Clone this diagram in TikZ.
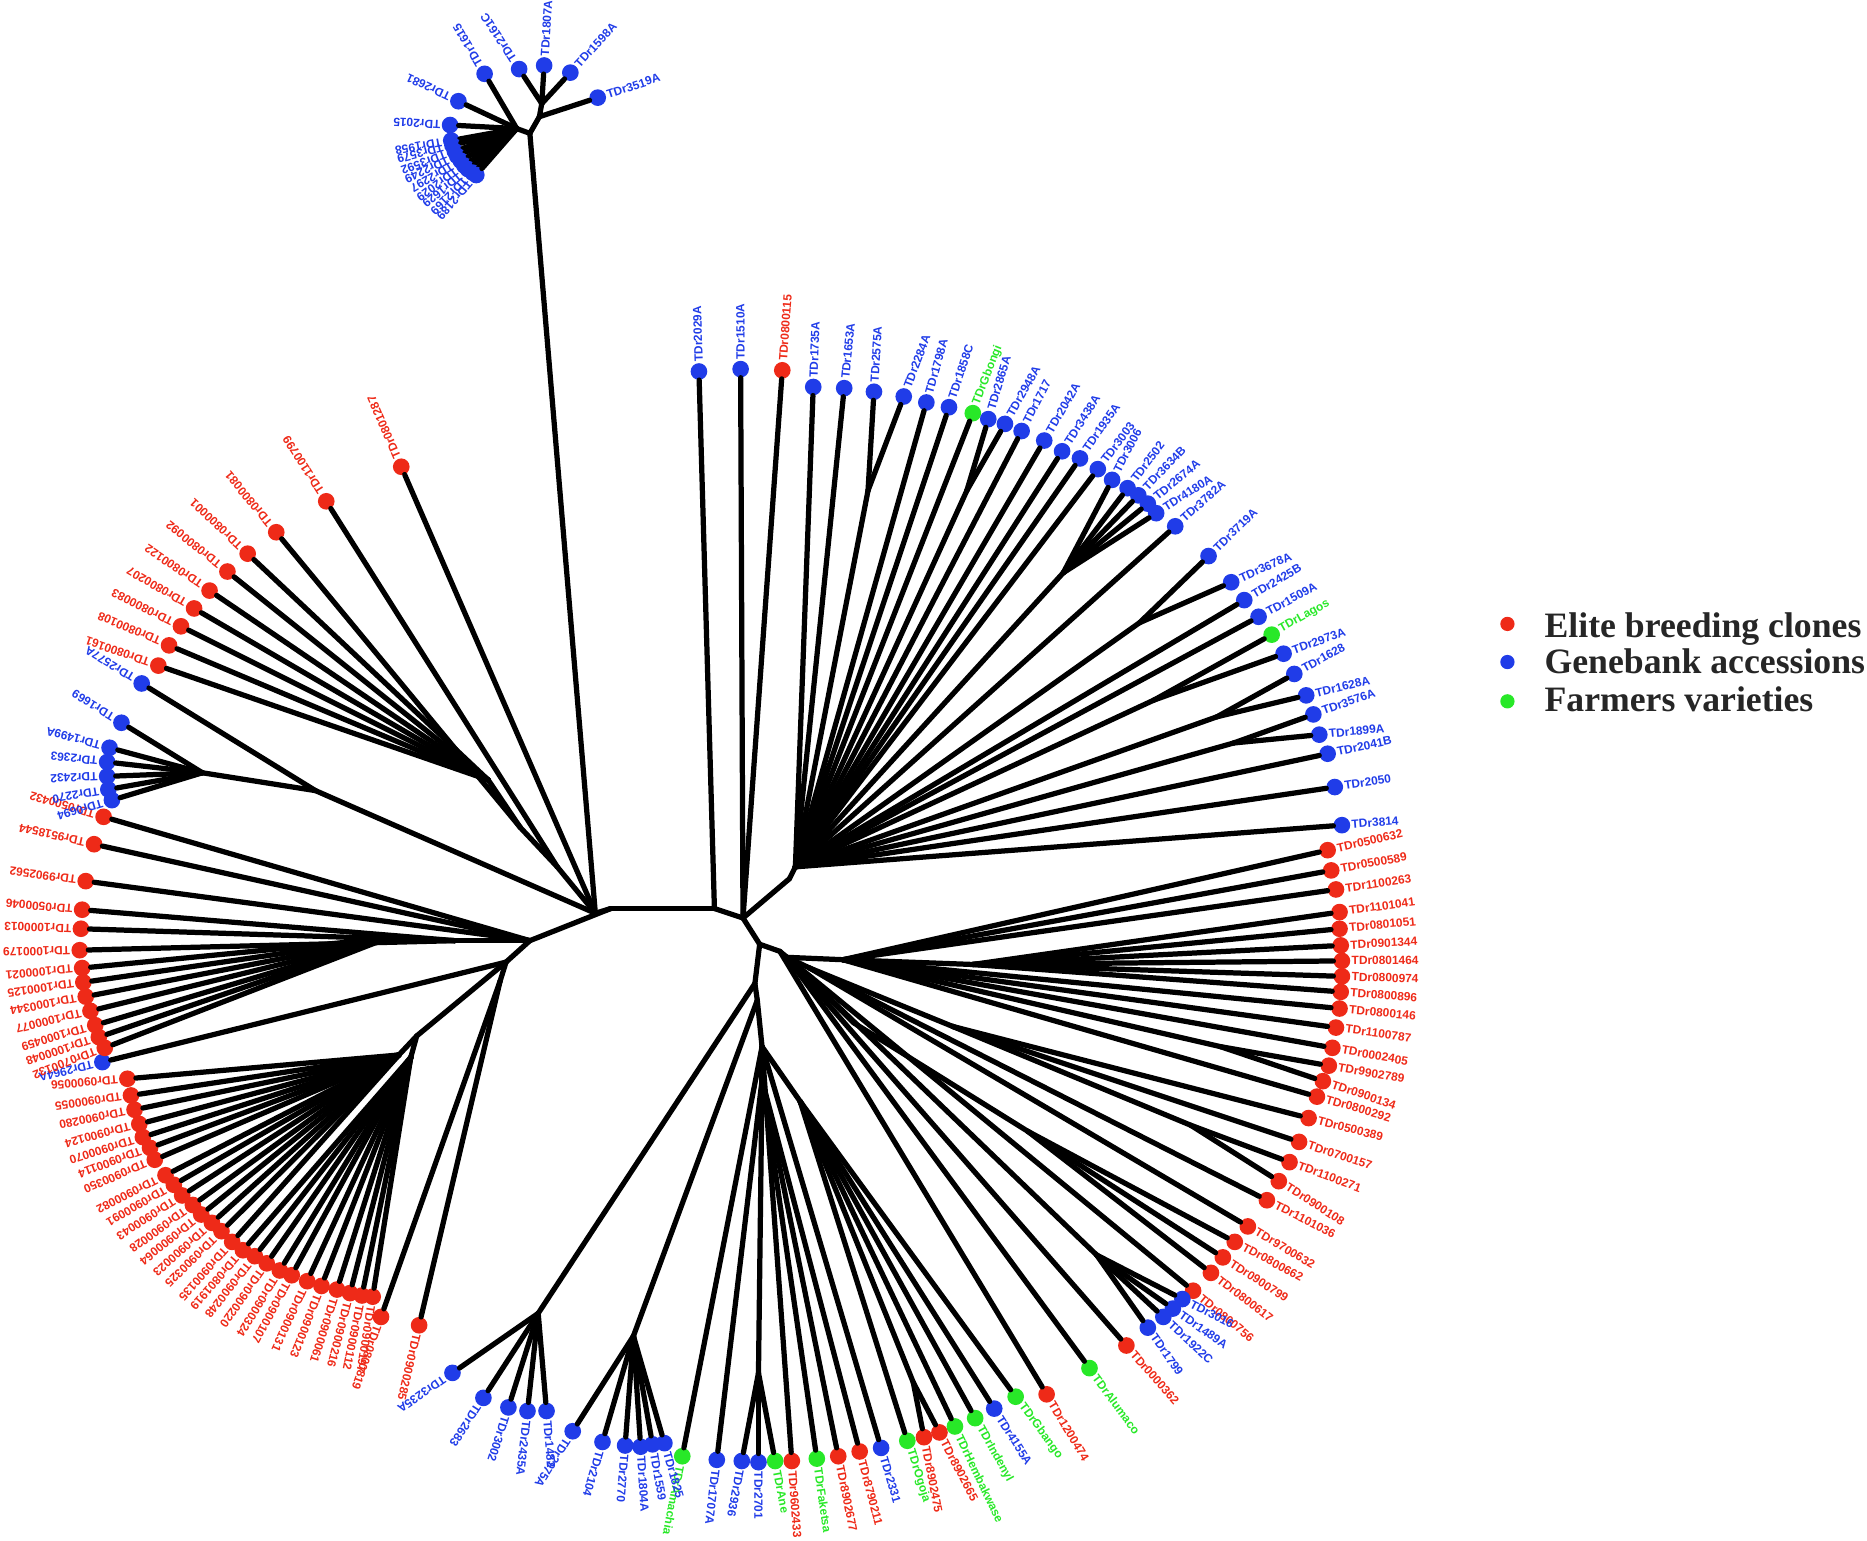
\documentclass[tikz,border=0pt]{standalone}
\usepackage{fontspec}
\usepackage{xcolor}
\setmainfont{Liberation Sans}
\newfontfamily\legendfont{Liberation Serif}
\usetikzlibrary{calc}
\definecolor{elite}{RGB}{238,42,24}
\definecolor{bank}{RGB}{32,60,232}
\definecolor{farm}{RGB}{40,232,40}
\tikzset{
  branch/.style={line width=4.4pt,line cap=round,black},
  leafdot/.style={circle,inner sep=0pt,minimum size=14pt},
  tiplabel/.style={anchor=west,inner xsep=8pt,inner ysep=0pt,font=\fontsize{10}{12}\selectfont\bfseries},
  keydot/.style={circle,inner sep=0pt,minimum size=12pt},
  keytext/.style={anchor=base west,inner sep=0pt,text=black!85,font=\fontsize{30}{36}\selectfont\legendfont\bfseries}
}
\begin{document}
\begin{tikzpicture}[x=1pt,y=-1pt]
  \useasboundingbox (0,0) rectangle (1568,1294);
  % inner forks
  \foreach \name/\px/\py in {midL/513/763,midR/600/763,midB/624/771,midC/638/793,hubLeft/500/767,
    topRoot/445/112,topL/434/108,topR/453/98,topS/455/87,
    hubUL2/468/728,hubUL/437/695,fanUL/410/655,hubMid/265/664,hubSm/170/649,
    hubW/445/790,hubS/425/808,hubF1/382/790,hubF2/325/788,hubSb/420/824,hubArc/350/870,hubU/335/886,hubD/345/888,
    hubTR/663/738,hubTR2/668/728,join2575/729/412,join2865/812/412,hubC/893/481,join3719/957/523,join2973/969/588,join1628/1022/602,join3576/1036/624,
    hubE1/655/799,hubE2/661/804,hubE3/708/806,hubE4/817/810,hubE5/800/862,hubE6/680/813,hubE7/717/859,hubE8/863/950,join2789/1025/879,join0108/1000/945,hubK/921/1054,
    tr1/634/826,tr2/636/840,tr3/640/879,tr4/640/907,hubG/672/925,join2475/767/1161,join2936/637/1153,hubBL/452/1103,hubBM/532/1122}{
    \coordinate (\name) at (\px,\py);
  }
  \foreach \a/\b in {midL/midR,midR/midB,midB/midC,midL/hubLeft,hubLeft/topRoot,topRoot/topL,topRoot/topR,topR/topS,
    hubLeft/hubUL2,hubUL2/hubUL,hubUL/fanUL,hubLeft/hubMid,hubMid/hubSm,midL/hubW,hubW/hubS,hubW/hubF1,hubF1/hubF2,
    hubS/hubSb,hubS/hubArc,hubArc/hubU,hubArc/hubD,midB/hubTR,hubTR/hubTR2,hubTR2/join2575,hubTR2/join2865,hubTR2/hubC,hubTR2/join3719,hubTR2/join2973,hubTR2/join1628,hubTR2/join3576,
    midC/hubE1,hubE1/hubE2,hubE2/hubE3,hubE3/hubE4,hubE2/hubE6,hubE6/hubE5,hubE2/hubE7,hubE7/hubE8,hubE3/join2789,hubE5/join0108,hubE2/hubK,
    midC/tr1,tr1/tr2,tr2/tr3,tr3/tr4,tr3/hubG,hubG/join2475,tr4/join2936,tr1/hubBL,tr2/hubBM}{
    \draw[branch] (\a) -- (\b);
  }
  % tips: name/x/y/fork/group
  \foreach \name/\px/\py/\up/\kind in {
    TDr3519A/502/82/topR/bank,TDr1598A/479/61/topS/bank,TDr1807A/457/55/topS/bank,TDr2161C/436/58/topS/bank,TDr1615/407/62/topL/bank,TDr2681/385/85/topL/bank,TDr2015/378/105/topL/bank,
    TDr1958/379/118/topL/bank,TDr3579/380/122/topL/bank,TDr3592/382/127/topL/bank,TDr2249/384/131/topL/bank,TDr2297/387/135/topL/bank,TDr2029/390/139/topL/bank,TDr1629/393/142/topL/bank,TDr2169/397/145/topL/bank,TDr2189/400/147/topL/bank,
    TDr2029A/587/312/midR/bank,TDr1510A/622/310/midB/bank,TDr0800115/657/311/midB/elite,
    TDr1735A/683/325/hubTR2/bank,TDr1653A/709/326/hubTR2/bank,TDr2575A/734/329/join2575/bank,TDr2284A/759/333/join2575/bank,TDr1798A/778/338/hubTR2/bank,TDr1858C/797/342/hubTR2/bank,TDrGbongi/817/347/hubTR2/farm,TDr2865A/830/352/join2865/bank,TDr2948A/844/356/join2865/bank,TDr1717/858/362/hubTR2/bank,TDr2042A/877/370/hubTR2/bank,TDr3438A/892/379/hubTR2/bank,TDr1935A/907/385/hubTR2/bank,TDr3003/922/394/hubTR2/bank,
    TDr3006/934/403/hubC/bank,TDr2502/947/410/hubC/bank,TDr3634B/956/416/hubC/bank,TDr2674A/964/423/hubC/bank,TDr4180A/971/431/hubC/bank,TDr3782A/987/442/hubTR2/bank,
    TDr3719A/1015/467/join3719/bank,TDr3678A/1034/489/join3719/bank,TDr2425B/1045/504/hubTR2/bank,TDr1509A/1057/518/hubTR2/bank,TDrLagos/1068/533/join2973/farm,TDr2973A/1078/549/join2973/bank,TDr1628/1087/566/join1628/bank,TDr1628A/1097/584/join1628/bank,TDr3576A/1103/600/join3576/bank,TDr1899A/1108/617/join3576/bank,TDr2041B/1115/633/hubTR2/bank,TDr2050/1121/661/hubTR2/bank,TDr3814/1127/693/hubTR2/bank,
    TDr0500632/1115/714/hubE3/elite,TDr0500589/1118/731/hubE3/elite,TDr1100263/1122/747/hubE3/elite,TDr1101041/1125/766/hubE4/elite,TDr0801051/1125/780/hubE4/elite,TDr0901344/1126/794/hubE4/elite,TDr0801464/1127/807/hubE4/elite,TDr0800974/1127/820/hubE4/elite,TDr0800896/1126/833/hubE4/elite,TDr0800146/1125/847/hubE3/elite,TDr1100787/1122/863/hubE3/elite,TDr0002405/1119/880/hubE3/elite,TDr9902789/1116/895/join2789/elite,TDr0900134/1111/908/join2789/elite,TDr0800292/1106/921/hubE3/elite,
    TDr0500389/1099/939/hubE5/elite,TDr0700157/1091/959/hubE5/elite,TDr1100271/1083/976/join0108/elite,TDr0900108/1074/992/join0108/elite,TDr1101036/1064/1008/hubE6/elite,TDr9700632/1048/1030/hubE6/elite,TDr0800662/1037/1043/hubE8/elite,TDr0900799/1027/1056/hubE8/elite,TDr0800617/1017/1069/hubE8/elite,TDr0800756/1002/1084/hubE2/elite,
    TDr3016/993/1091/hubK/bank,TDr1489A/985/1099/hubK/bank,TDr1922C/977/1106/hubK/bank,TDr1799/964/1115/hubK/bank,TDr0000362/946/1130/hubE2/elite,TDrAlumaco/915/1149/hubE2/farm,TDr1200474/879/1171/hubE1/elite,
    TDrGbango/853/1173/hubG/farm,TDr4155A/835/1183/hubG/bank,TDrIndenyl/819/1191/hubG/farm,TDrHembakwase/802/1198/hubG/farm,TDr8902665/789/1203/join2475/elite,TDr8902475/776/1207/join2475/elite,TDrOgoja/762/1210/hubG/farm,
    TDr2331/740/1216/tr3/bank,TDr8790211/722/1219/tr4/elite,TDr8902677/704/1223/tr4/elite,TDrFaketsa/686/1225/tr4/farm,TDr9602433/665/1227/tr3/elite,TDrAne/651/1227/join2936/farm,TDr2701/637/1228/join2936/bank,TDr2936/623/1227/join2936/bank,TDr1707A/602/1226/tr4/bank,TDrAmachia/573/1223/tr3/farm,
    TDr1825/558/1212/hubBM/bank,TDr1559/548/1213/hubBM/bank,TDr1804A/538/1215/hubBM/bank,TDr2770/525/1214/hubBM/bank,TDr2104/506/1211/hubBM/bank,TDr2975A/481/1202/hubBM/bank,
    TDr1482/459/1185/hubBL/bank,TDr2435A/443/1185/hubBL/bank,TDr3002/427/1182/hubBL/bank,TDr2683/406/1174/hubBL/bank,TDr3235A/380/1153/hubBL/bank,
    TDr0900285/352/1113/hubSb/elite,TDr0800819/320/1106/hubSb/elite,
    TDr0900197/313/1089/hubD/elite,TDr0900112/304/1088/hubD/elite,TDr0900216/294/1086/hubD/elite,TDr0900061/283/1083/hubD/elite,TDr0900123/270/1080/hubD/elite,TDr0900131/258/1076/hubD/elite,TDr0900107/245/1071/hubD/elite,TDr0900324/235/1067/hubD/elite,TDr0900220/224/1061/hubD/elite,TDr0900248/214/1055/hubD/elite,TDr0801919/204/1050/hubD/elite,
    TDr0900135/195/1043/hubU/elite,TDr0900325/186/1034/hubU/elite,TDr0900023/178/1027/hubU/elite,TDr0900064/169/1020/hubU/elite,TDr0900028/162/1012/hubU/elite,TDr0900043/153/1004/hubU/elite,TDr0900091/146/995/hubU/elite,TDr0900082/139/987/hubU/elite,TDr0900350/130/974/hubU/elite,TDr0900114/126/964/hubU/elite,TDr0900070/120/955/hubU/elite,TDr0900124/117/944/hubU/elite,TDr0900280/113/932/hubU/elite,TDr0900055/110/920/hubU/elite,TDr0900056/107/906/hubU/elite,
    TDr2964A/86/892/hubS/bank,TDr0700132/88/880/hubF2/elite,TDr1000048/83/871/hubF2/elite,TDr1000459/80/861/hubF2/elite,TDr1000077/76/849/hubF2/elite,TDr1000344/72/837/hubF2/elite,TDr1000125/70/825/hubF2/elite,TDr1000021/69/813/hubF2/elite,TDr1000179/67/798/hubF1/elite,TDr1000013/68/780/hubF1/elite,TDr0500046/69/764/hubF1/elite,
    TDr9902562/72/740/hubW/elite,TDr9518544/79/709/hubW/elite,TDr0500432/87/686/hubW/elite,
    TDr0694/94/672/hubSm/bank,TDr2270/91/663/hubSm/bank,TDr2432/90/652/hubSm/bank,TDr2363/90/640/hubSm/bank,TDr1499A/92/628/hubSm/bank,TDr1669/102/607/hubSm/bank,TDr2577A/119/574/hubMid/bank,
    TDr0800161/133/559/fanUL/elite,TDr0800108/142/542/fanUL/elite,TDr0800083/152/526/fanUL/elite,TDr0800207/163/511/fanUL/elite,TDr0800122/176/496/fanUL/elite,TDr0800092/191/480/fanUL/elite,TDr0800001/208/465/fanUL/elite,TDr0800081/232/447/hubUL/elite,TDr1100799/274/421/hubUL2/elite,TDr0801287/337/392/hubLeft/elite}{
    \node[leafdot,fill=\kind] (\name) at (\px,\py) {};
    \draw[branch] (\up) -- (\name);
    \path let \p1=($(\name)-(\up)$),\n1={atan2(\y1,\x1)} in (\name) node[tiplabel,text=\kind,rotate=\n1] (\name-t) {\name};
  }
  % key
  \foreach \name/\py/\base/\kind/\txt in {keyElite/524/535/elite/Elite breeding clones,keyBank/556/565.5/bank/Genebank accessions,keyFarm/589/597.5/farm/Farmers varieties}{
    \node[keydot,fill=\kind] (\name) at (1266,\py) {};
    \node[keytext] (\name-t) at (1297,\base) {\txt};
  }
\end{tikzpicture}
\end{document}
